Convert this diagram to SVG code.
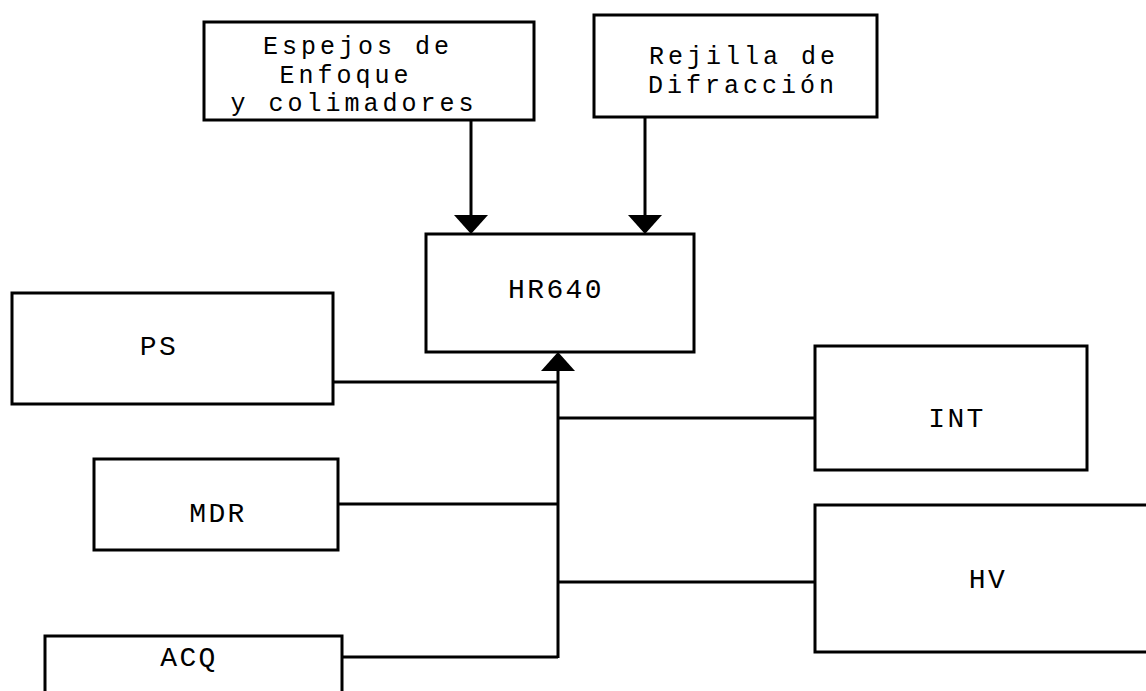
<svg xmlns="http://www.w3.org/2000/svg" width="1146" height="691" viewBox="0 0 1146 691">
<style>
.box{fill:#fff;stroke:#000;stroke-width:3}
.t{font-family:"Liberation Mono","Courier New",monospace;font-size:28px;letter-spacing:2.4px;fill:#000;text-anchor:middle}
.s{font-size:25px;letter-spacing:4px}
.c{stroke:#000;stroke-width:3;fill:none}
.ah{fill:#000}
</style>
<rect width="1146" height="691" fill="#fff"/>
<g id="espejos">
<rect class="box" x="204" y="22" width="330" height="98"/>
<text class="t s" x="358" y="54">Espejos de</text>
<text class="t s" x="346" y="83">Enfoque</text>
<text class="t s" x="354" y="111">y colimadores</text>
</g>
<g id="rejilla">
<rect class="box" x="594" y="15" width="283" height="102"/>
<text class="t s" x="744" y="64">Rejilla de</text>
<text class="t s" x="743" y="93">Difracción</text>
</g>
<g id="hr640">
<rect class="box" x="426" y="234" width="268" height="118"/>
<text class="t" x="556" y="298">HR640</text>
</g>
<g id="ps">
<rect class="box" x="12" y="293" width="321" height="111"/>
<text class="t" x="159" y="355">PS</text>
</g>
<g id="mdr">
<rect class="box" x="94" y="459" width="244" height="91"/>
<text class="t" x="218" y="522">MDR</text>
</g>
<g id="acq">
<rect class="box" x="45" y="636" width="297" height="60"/>
<text class="t" x="189" y="666">ACQ</text>
</g>
<g id="int">
<rect class="box" x="815" y="346" width="272" height="124"/>
<text class="t" x="957" y="427">INT</text>
</g>
<g id="hv">
<rect class="box" x="815" y="505" width="340" height="147"/>
<text class="t" x="988" y="588">HV</text>
</g>
<g id="connectors">
<line class="c" x1="471" y1="120" x2="471" y2="216"/>
<polygon class="ah" points="454,215 488,215 471,234"/>
<line class="c" x1="645" y1="117" x2="645" y2="216"/>
<polygon class="ah" points="628,215 662,215 645,234"/>
<polygon class="ah" points="558,352 541,371 575,371"/>
<line class="c" x1="558" y1="370" x2="558" y2="658"/>
<line class="c" x1="333" y1="382" x2="558" y2="382"/>
<line class="c" x1="558" y1="418" x2="815" y2="418"/>
<line class="c" x1="338" y1="504" x2="558" y2="504"/>
<line class="c" x1="558" y1="582" x2="815" y2="582"/>
<line class="c" x1="342" y1="657" x2="558" y2="657"/>
</g>
</svg>
